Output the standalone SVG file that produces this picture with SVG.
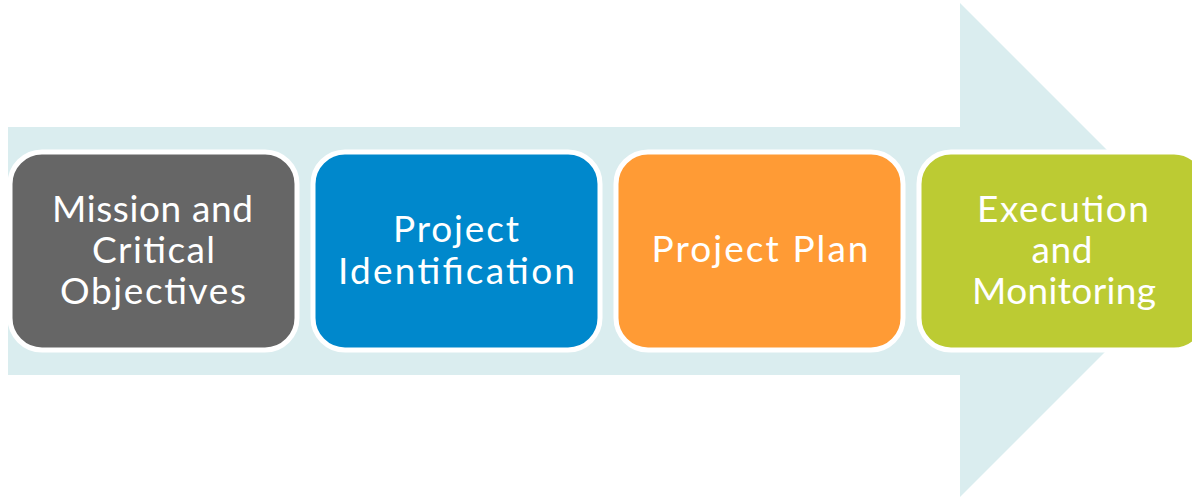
<svg xmlns="http://www.w3.org/2000/svg" width="1192" height="497" viewBox="0 0 1192 497">
<style>
.box{stroke:#ffffff;stroke-width:5}
.t{font-family:"Lato","Open Sans",sans-serif;font-size:37px;fill:#ffffff;text-anchor:middle}
</style>
<rect width="1192" height="497" fill="#ffffff"/>
<g id="arrow">
<polygon points="8,127 960,127 960,3 1207,250 960,497 960,375 8,375" fill="#daedef"/>
</g>
<g id="connectors"></g>
<g id="n1">
<rect class="box" x="10" y="152" width="287" height="198" rx="32" fill="#666666"/>
<text class="t" x="152.5" y="221.5" textLength="201" lengthAdjust="spacing">Mission and</text>
<text class="t" x="153.5" y="262.5" textLength="123" lengthAdjust="spacing">Critical</text>
<text class="t" x="153" y="303.5" textLength="186" lengthAdjust="spacing">Objectives</text>
</g>
<g id="n2">
<rect class="box" x="313" y="152" width="287" height="198" rx="32" fill="#0088cc"/>
<text class="t" x="456" y="242" textLength="126" lengthAdjust="spacing">Project</text>
<text class="t" x="456.5" y="283.5" textLength="237" lengthAdjust="spacing">Identification</text>
</g>
<g id="n3">
<rect class="box" x="616" y="152" width="287" height="198" rx="32" fill="#ff9b35"/>
<text class="t" x="760" y="262" textLength="217" lengthAdjust="spacing">Project Plan</text>
</g>
<g id="n4">
<rect class="box" x="919" y="152" width="287" height="198" rx="32" fill="#bccb33"/>
<text class="t" x="1063" y="221.5" textLength="172" lengthAdjust="spacing">Execution</text>
<text class="t" x="1062" y="262.5" textLength="61" lengthAdjust="spacing">and</text>
<text class="t" x="1064" y="303.5" textLength="184" lengthAdjust="spacing">Monitoring</text>
</g>
</svg>
